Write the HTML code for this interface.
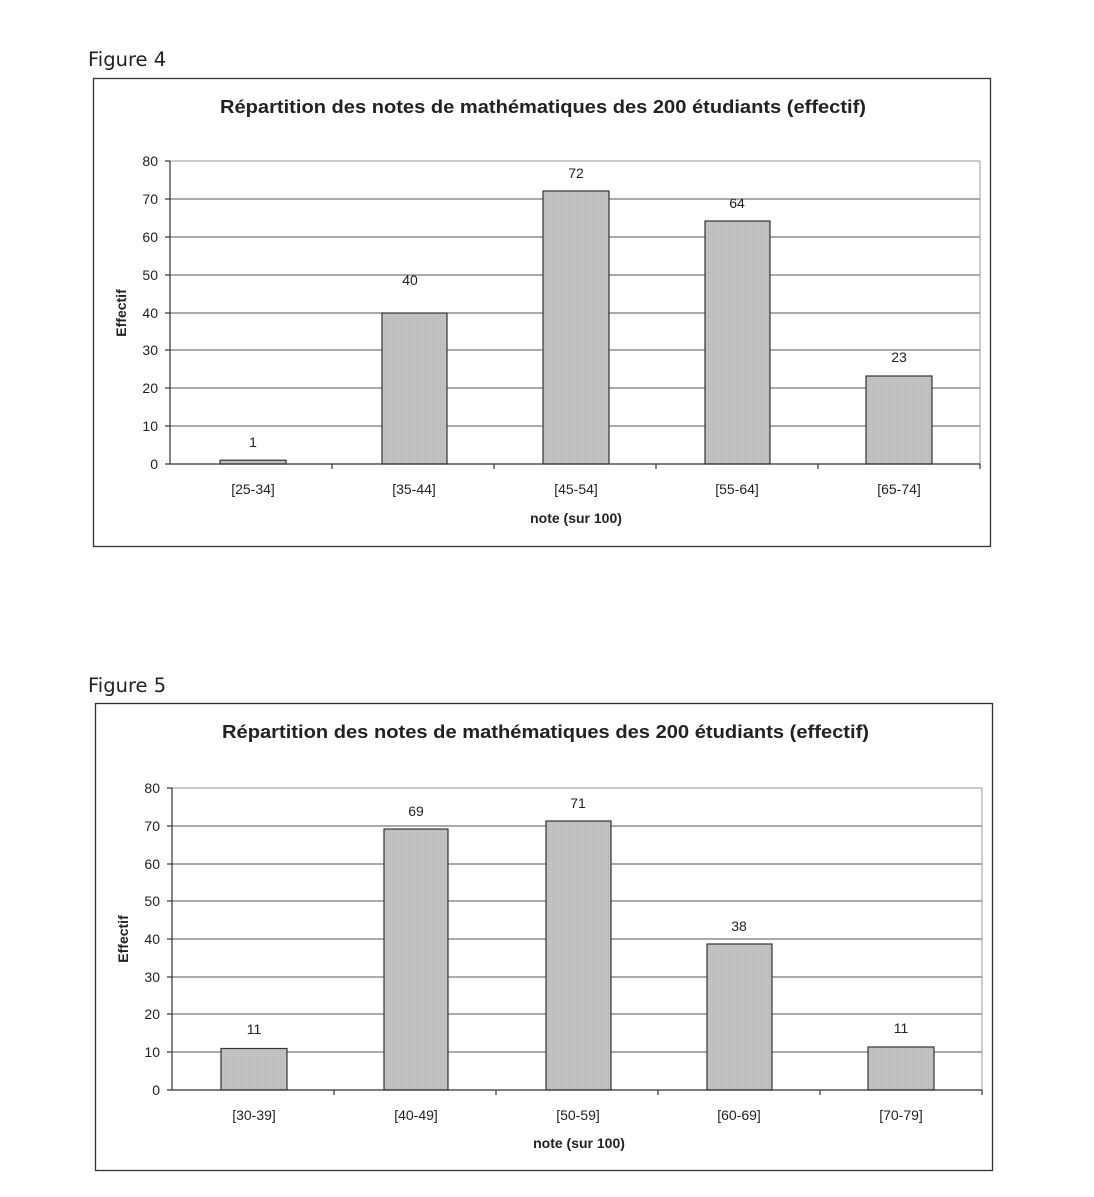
<!DOCTYPE html>
<html><head><meta charset="utf-8"><style>
html,body{margin:0;padding:0;background:#fff;}
svg text{font-family:"Liberation Sans",Arial,sans-serif;fill:#222;}
</style></head><body>
<svg width="1094" height="1192" viewBox="0 0 1094 1192" xmlns="http://www.w3.org/2000/svg">
<defs>
<pattern id="g" width="2" height="2" patternUnits="userSpaceOnUse"><rect width="2" height="2" fill="#c4c4c4"/><rect width="1" height="1" fill="#b2b2b2"/></pattern>
</defs>

<!-- Figure 4 -->
<text x="88" y="66" font-size="19.5" style="font-family:'DejaVu Sans','Liberation Sans',sans-serif" fill="#222">Figure 4</text>
<rect x="93.5" y="78.5" width="897" height="468" fill="none" stroke="#333" stroke-width="1.3"/>
<text x="220" y="113" font-size="18" font-weight="bold" textLength="646" lengthAdjust="spacingAndGlyphs">Répartition des notes de mathématiques des 200 étudiants (effectif)</text>
<g stroke="#555" stroke-width="1">
<line x1="170" y1="161" x2="980" y2="161" stroke="#999"/>
<line x1="170" y1="199" x2="980" y2="199"/>
<line x1="170" y1="237" x2="980" y2="237"/>
<line x1="170" y1="275" x2="980" y2="275"/>
<line x1="170" y1="313" x2="980" y2="313"/>
<line x1="170" y1="350" x2="980" y2="350"/>
<line x1="170" y1="388" x2="980" y2="388"/>
<line x1="170" y1="426" x2="980" y2="426"/>
<line x1="980" y1="161" x2="980" y2="464" stroke="#999"/>
</g>
<g fill="url(#g)" stroke="#333" stroke-width="1.2">
<rect x="220" y="460.2" width="66" height="3.8"/>
<rect x="382" y="313" width="65" height="151"/>
<rect x="543" y="191" width="66" height="273"/>
<rect x="705" y="221" width="65" height="243"/>
<rect x="866" y="376" width="66" height="88"/>
</g>
<g stroke="#333" stroke-width="1.2">
<line x1="170" y1="161" x2="170" y2="464"/>
<line x1="165" y1="464" x2="980" y2="464"/>
<line x1="165" y1="161" x2="170" y2="161"/><line x1="165" y1="199" x2="170" y2="199"/><line x1="165" y1="237" x2="170" y2="237"/><line x1="165" y1="275" x2="170" y2="275"/><line x1="165" y1="313" x2="170" y2="313"/><line x1="165" y1="350" x2="170" y2="350"/><line x1="165" y1="388" x2="170" y2="388"/><line x1="165" y1="426" x2="170" y2="426"/>
<line x1="332" y1="464" x2="332" y2="469"/><line x1="494" y1="464" x2="494" y2="469"/><line x1="656" y1="464" x2="656" y2="469"/><line x1="818" y1="464" x2="818" y2="469"/><line x1="980" y1="464" x2="980" y2="469"/>
</g>
<g font-size="14" text-anchor="end">
<text x="158" y="166">80</text><text x="158" y="204">70</text><text x="158" y="242">60</text><text x="158" y="280">50</text><text x="158" y="318">40</text><text x="158" y="355">30</text><text x="158" y="393">20</text><text x="158" y="431">10</text><text x="158" y="469">0</text>
</g>
<text transform="translate(126,313) rotate(-90)" font-size="14" font-weight="bold" text-anchor="middle">Effectif</text>
<g font-size="14" text-anchor="middle">
<text x="253" y="447">1</text><text x="410" y="285">40</text><text x="576" y="178">72</text><text x="737" y="208">64</text><text x="899" y="362">23</text>
<text x="253" y="494">[25-34]</text><text x="414" y="494">[35-44]</text><text x="576" y="494">[45-54]</text><text x="737" y="494">[55-64]</text><text x="899" y="494">[65-74]</text>
</g>
<text x="576" y="523" font-size="14" font-weight="bold" text-anchor="middle">note (sur 100)</text>

<!-- Figure 5 -->
<text x="88" y="692" font-size="19.5" style="font-family:'DejaVu Sans','Liberation Sans',sans-serif" fill="#222">Figure 5</text>
<rect x="95.5" y="703.5" width="897" height="467" fill="none" stroke="#333" stroke-width="1.3"/>
<text x="222" y="738" font-size="18" font-weight="bold" textLength="647" lengthAdjust="spacingAndGlyphs">Répartition des notes de mathématiques des 200 étudiants (effectif)</text>
<g stroke="#555" stroke-width="1">
<line x1="172" y1="788" x2="982" y2="788" stroke="#999"/>
<line x1="172" y1="826" x2="982" y2="826"/>
<line x1="172" y1="864" x2="982" y2="864"/>
<line x1="172" y1="901" x2="982" y2="901"/>
<line x1="172" y1="939" x2="982" y2="939"/>
<line x1="172" y1="977" x2="982" y2="977"/>
<line x1="172" y1="1014" x2="982" y2="1014"/>
<line x1="172" y1="1052" x2="982" y2="1052"/>
<line x1="982" y1="788" x2="982" y2="1090" stroke="#999"/>
</g>
<g fill="url(#g)" stroke="#333" stroke-width="1.2">
<rect x="221" y="1048.5" width="66" height="41.5"/>
<rect x="384" y="829" width="64" height="261"/>
<rect x="546" y="821" width="65" height="269"/>
<rect x="707" y="944" width="65" height="146"/>
<rect x="868" y="1047" width="66" height="43"/>
</g>
<g stroke="#333" stroke-width="1.2">
<line x1="172" y1="788" x2="172" y2="1090"/>
<line x1="167" y1="1090" x2="982" y2="1090"/>
<line x1="167" y1="788" x2="172" y2="788"/><line x1="167" y1="826" x2="172" y2="826"/><line x1="167" y1="864" x2="172" y2="864"/><line x1="167" y1="901" x2="172" y2="901"/><line x1="167" y1="939" x2="172" y2="939"/><line x1="167" y1="977" x2="172" y2="977"/><line x1="167" y1="1014" x2="172" y2="1014"/><line x1="167" y1="1052" x2="172" y2="1052"/>
<line x1="334" y1="1090" x2="334" y2="1095"/><line x1="496" y1="1090" x2="496" y2="1095"/><line x1="658" y1="1090" x2="658" y2="1095"/><line x1="820" y1="1090" x2="820" y2="1095"/><line x1="982" y1="1090" x2="982" y2="1095"/>
</g>
<g font-size="14" text-anchor="end">
<text x="160" y="793">80</text><text x="160" y="831">70</text><text x="160" y="869">60</text><text x="160" y="906">50</text><text x="160" y="944">40</text><text x="160" y="982">30</text><text x="160" y="1019">20</text><text x="160" y="1057">10</text><text x="160" y="1095">0</text>
</g>
<text transform="translate(128,939) rotate(-90)" font-size="14" font-weight="bold" text-anchor="middle">Effectif</text>
<g font-size="14" text-anchor="middle">
<text x="254" y="1034">11</text><text x="416" y="816">69</text><text x="578" y="808">71</text><text x="739" y="931">38</text><text x="901" y="1033">11</text>
<text x="254" y="1120">[30-39]</text><text x="416" y="1120">[40-49]</text><text x="578" y="1120">[50-59]</text><text x="739" y="1120">[60-69]</text><text x="901" y="1120">[70-79]</text>
</g>
<text x="579" y="1148" font-size="14" font-weight="bold" text-anchor="middle">note (sur 100)</text>
</svg>
</body></html>
